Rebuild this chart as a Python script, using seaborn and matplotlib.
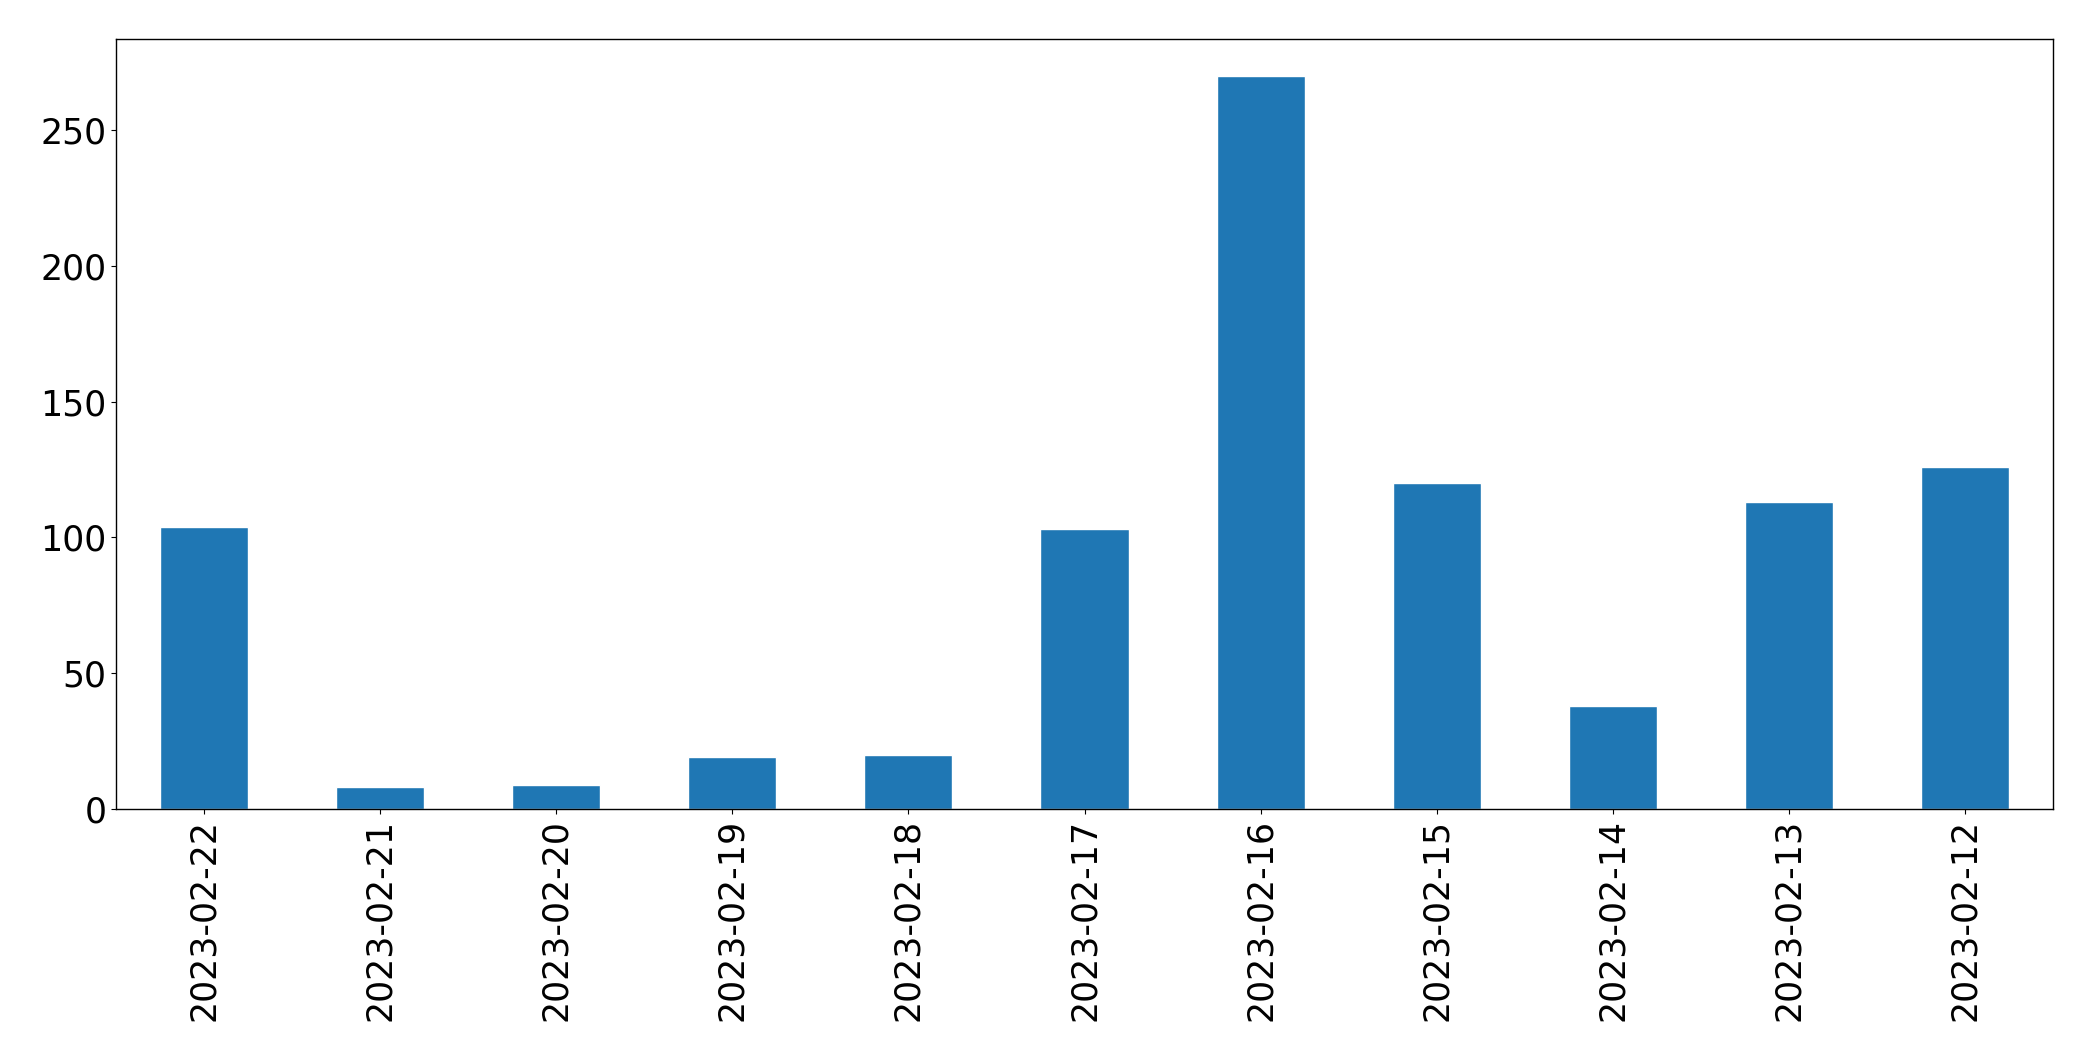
import matplotlib
matplotlib.use("Agg")
import matplotlib.pyplot as plt
import seaborn as sns
import pandas as pd

dates = ["2023-02-22", "2023-02-21", "2023-02-20", "2023-02-19", "2023-02-18",
         "2023-02-17", "2023-02-16", "2023-02-15", "2023-02-14", "2023-02-13",
         "2023-02-12"]
counts = [104, 8, 9, 19, 20, 103, 270, 120, 38, 113, 126]

df = pd.DataFrame({"date": dates, "count": counts})

sns.set_style("ticks")
plt.rcParams['font.family'] = ['DejaVu Sans']
plt.rcParams['text.color'] = 'black'
plt.rcParams['xtick.color'] = 'black'
plt.rcParams['ytick.color'] = 'black'

fig = plt.figure(figsize=(20.93, 10.61), dpi=100)
ax = fig.add_axes([116 / 2093, 1 - 809 / 1061, (2053 - 116) / 2093, (809 - 39) / 1061])
sns.barplot(data=df, x="date", y="count", color="#1f77b4", saturation=1,
            width=0.5, ax=ax, order=dates)
ax.set_xlim(-0.5, len(dates) - 0.5)
ax.set_ylim(0, 283.5)
ax.set_xlabel("")
ax.set_ylabel("")
ax.tick_params(axis="x", labelrotation=90, labelsize=25, colors="black")
ax.tick_params(axis="y", labelsize=25, colors="black")
for s in ax.spines.values():
    s.set_visible(True)
    s.set_linewidth(1.0)
    s.set_color("black")
fig.savefig("out.png", dpi=100)
